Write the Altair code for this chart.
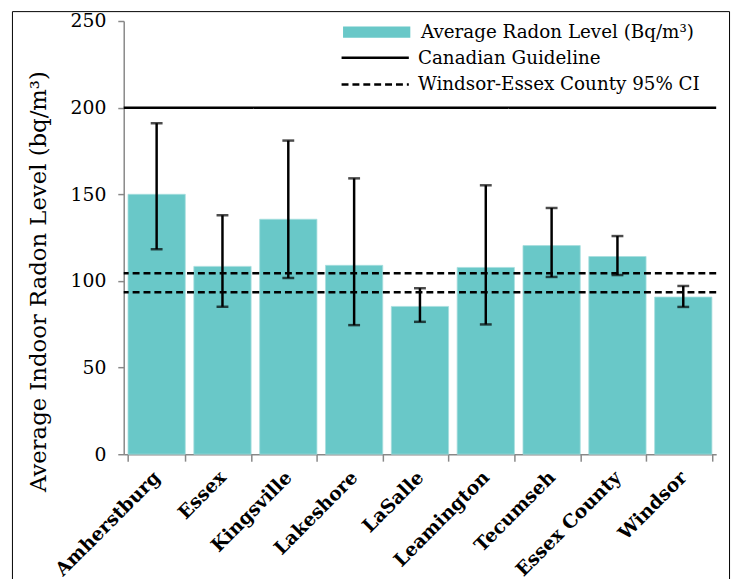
import altair as alt
import pandas as pd

# ---------------- data ----------------
regions = ["Amherstburg", "Essex", "Kingsville", "Lakeshore", "LaSalle",
           "Leamington", "Tecumseh", "Essex County", "Windsor"]
avg_radon = [150.0, 108.4, 135.6, 109.0, 85.3, 107.8, 120.4, 114.1, 90.7]
ci_low = [118.3, 85.1, 101.7, 74.5, 76.4, 74.9, 102.3, 103.4, 85.0]
ci_high = [191.0, 137.9, 181.0, 159.2, 95.8, 155.2, 142.1, 125.9, 97.1]

ref_names = ["Canadian Guideline", "Windsor-Essex County 95% CI", "Windsor-Essex County 95% CI"]
ref_values = [200, 104.4, 93.5]

bar_series_name = "Average Radon Level (Bq/m³)"
y_ticks = [0, 50, 100, 150, 200, 250]
y_title = "Average Indoor Radon Level (bq/m³)"

# ---------------- styling ----------------
W, H = 599, 438
FONT = "DejaVu Serif"
TEAL = "#69C8C8"
GREY = "#888888"

bars_df = pd.DataFrame({
    "region": regions, "avg": avg_radon, "lo": ci_low, "hi": ci_high,
    "bar_series": [bar_series_name] * len(regions),
})
ref_df = pd.DataFrame({"ref_series": ref_names, "value": ref_values})
frame_df = pd.DataFrame({"k": [0]})

x_enc = alt.X(
    "region:N", sort=regions,
    scale=alt.Scale(paddingInner=0.13, paddingOuter=0.065),
    axis=alt.Axis(
        title=None, labelAngle=-45, labelAlign="right", labelBaseline="middle",
        labelFont=FONT, labelFontWeight="bold", labelFontSize=19, labelColor="black",
        labelPadding=13, tickBand="extent", tickSize=7, tickColor=GREY,
        domainColor=GREY, tickWidth=1.5, domainWidth=1.5, labelLimit=300,
    ),
)

y_scale = alt.Scale(domain=[0, 250], nice=False)
y_axis = alt.Axis(
    values=y_ticks, grid=False, title=y_title,
    labelFont=FONT, labelFontSize=19, labelColor="black", labelPadding=12,
    tickSize=6, tickColor=GREY, domainColor=GREY, tickWidth=1.5, domainWidth=1.5,
    titleFont=FONT, titleFontSize=23, titleFontWeight="normal", titleColor="black",
    titleX=-86, titleY=263, titleAngle=270, titleAlign="center", titleBaseline="middle",
)

bars = alt.Chart(bars_df).mark_bar(stroke="#A8DEDE", strokeWidth=0.8).encode(
    x=x_enc,
    y=alt.Y("avg:Q", scale=y_scale, axis=y_axis),
    fill=alt.Fill(
        "bar_series:N",
        scale=alt.Scale(domain=[bar_series_name], range=[TEAL]),
        legend=alt.Legend(
            title=None, orient="none", legendX=246.5, legendY=2, padding=0,
            symbolType="M-6.8,-1.15H6.8V1.15H-6.8Z", symbolSize=100, symbolStrokeWidth=0,
            symbolOpacity=1,
            labelFont=FONT, labelFontSize=18.5, labelColor="black", labelOffset=35.5,
            labelLimit=500,
        ),
    ),
)

refs = alt.Chart(ref_df).mark_rule(color="black", strokeWidth=2.5).encode(
    y=alt.Y("value:Q", scale=y_scale),
    strokeDash=alt.StrokeDash(
        "ref_series:N",
        scale=alt.Scale(domain=["Canadian Guideline", "Windsor-Essex County 95% CI"],
                        range=[[1, 0], [7, 4]]),
        legend=alt.Legend(
            title=None, orient="none", legendX=245, legendY=28, padding=0,
            symbolType="M-6.8,0H6.8", symbolSize=100, symbolStrokeWidth=2.5,
            symbolStrokeColor="black", symbolOpacity=1, rowPadding=8,
            labelFont=FONT, labelFontSize=18.5, labelColor="black", labelOffset=34,
            labelLimit=500,
        ),
    ),
)

err_rule = alt.Chart(bars_df).mark_rule(color="black", strokeWidth=2.5).encode(
    x=alt.X("region:N", sort=regions),
    y=alt.Y("lo:Q", scale=y_scale),
    y2="hi:Q",
)
err_lo = alt.Chart(bars_df).mark_tick(color="black", orient="horizontal", size=12, thickness=2.5).encode(
    x=alt.X("region:N", sort=regions),
    y=alt.Y("lo:Q", scale=y_scale),
)
err_hi = alt.Chart(bars_df).mark_tick(color="black", orient="horizontal", size=12, thickness=2.5).encode(
    x=alt.X("region:N", sort=regions),
    y=alt.Y("hi:Q", scale=y_scale),
)

frame = alt.Chart(frame_df).mark_rect(filled=False, stroke="black", strokeWidth=1).encode(
    x=alt.value(-112.5), x2=alt.value(612.5), y=alt.value(-9.5), y2=alt.value(700),
)

chart = alt.layer(bars, refs, err_rule, err_lo, err_hi, frame).properties(
    width=W, height=H,
    autosize=alt.AutoSizeParams(type="none"),
    padding={"left": 117, "top": 10, "right": 17, "bottom": 123},
).resolve_legend(fill="independent", strokeDash="independent").configure_view(strokeWidth=0)

chart.save("out.html", embed_options={"renderer": "svg", "actions": False})
